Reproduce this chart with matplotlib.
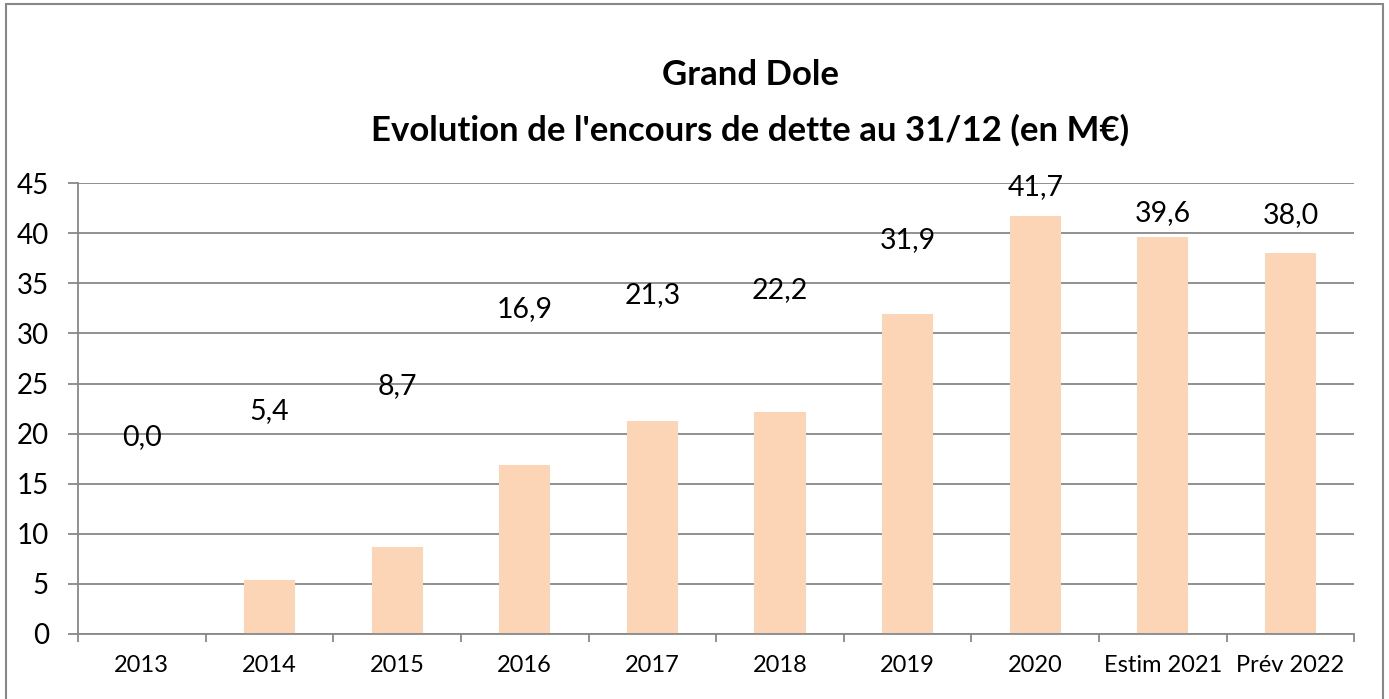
import matplotlib.pyplot as plt
from matplotlib.patches import Rectangle

# Donnees du graphique
categories = ['2013', '2014', '2015', '2016', '2017', '2018', '2019', '2020',
              'Estim 2021', 'Prév 2022']
encours = [0.0, 5.4, 8.7, 16.9, 21.3, 22.2, 31.9, 41.7, 39.6, 38.0]
# hauteur ou sont poses les libelles (comme dans le fichier Excel d'origine)
label_y = [19.7, 22.3, 24.7, 32.4, 33.8, 34.3, 39.3, 44.6, 42.0, 41.8]

plt.rcParams['font.family'] = ['Lato', 'DejaVu Sans']

fig = plt.figure(figsize=(13.89, 6.99), dpi=100)
ax = fig.add_axes([0.0562, 0.093, 0.9188, 0.645])

x = range(len(categories))
ax.bar(x, encours, width=0.4, color='#FBD5B5', zorder=2)
for i, v in enumerate(encours):
    ax.text(i, label_y[i], f'{v:.1f}'.replace('.', ','), ha='center', va='center',
            fontsize=20.5, zorder=3)

ax.set_xlim(-0.5, len(categories) - 0.5)
ax.set_ylim(0, 45)
ax.set_yticks(range(0, 46, 5))
ax.set_xticks(list(x))
ax.set_xticklabels(categories, fontsize=17)
ax.set_xticks([i - 0.5 for i in range(len(categories) + 1)], minor=True)
ax.tick_params(axis='x', which='major', length=0, pad=15)
ax.tick_params(axis='x', which='minor', length=6, color='#888888', width=1.3)
ax.tick_params(axis='y', labelsize=20, length=7, pad=14, color='#888888', width=1.3)

ax.yaxis.grid(True, color='#888888', linewidth=1.3, zorder=0)
ax.set_axisbelow(True)
for s in ['top', 'right']:
    ax.spines[s].set_visible(False)
for s in ['left', 'bottom']:
    ax.spines[s].set_color('#888888')
    ax.spines[s].set_linewidth(1.3)

fig.text(0.54, 0.893, 'Grand Dole', ha='center', va='center', fontsize=25,
         fontweight='bold')
fig.text(0.54, 0.814, "Evolution de l'encours de dette au 31/12 (en M€)",
         ha='center', va='center', fontsize=25, fontweight='bold')

# cadre du graphique
fig.patches.append(Rectangle((6 / 1389, -0.01), 1377 / 1389, 1 - 4 / 699 + 0.01,
                             transform=fig.transFigure, fill=False,
                             edgecolor='#888888', linewidth=1.5))

plt.savefig('out.png', dpi=100)
